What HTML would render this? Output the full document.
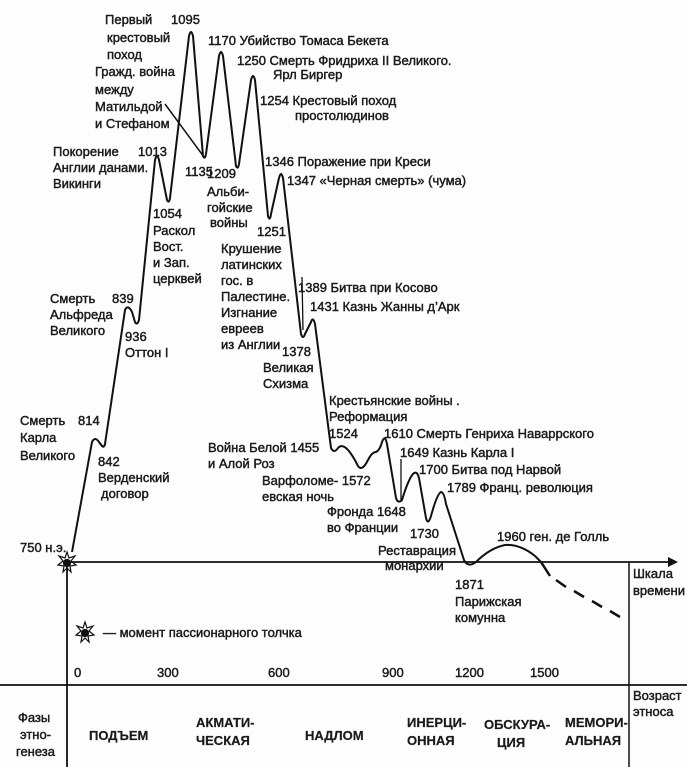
<!DOCTYPE html>
<html><head><meta charset="utf-8"><style>
html,body{margin:0;padding:0;background:#fdfdfd;}
svg{display:block}
text{font-family:"Liberation Sans","DejaVu Sans",sans-serif;font-size:13px;fill:#1a1a1a;stroke:#1a1a1a;stroke-width:0.45px}
.b{font-weight:bold;stroke-width:0.2px}
</style></head><body>
<svg width="687" height="767" viewBox="0 0 687 767" xmlns="http://www.w3.org/2000/svg">
<rect width="687" height="767" fill="#fdfdfd"/>
<g fill="none" stroke="#111" stroke-width="2" stroke-linejoin="round">
<path d="M72,552 L92,442 Q95,436 99,442 L102,446 Q104,448 105,444 L125,310 Q128,304 132,312 L135,322 Q137,326 139,320 L155,160 Q157,152 159,160 L167,200 Q169,204 170,198 L189,36 Q191,28 193,36 L203,156 Q205,160 206,154 L219,56 Q221,48 223,56 L236,166 Q238,170 239,164 L251,80 Q253,72 255,80 L268,216 Q270,222 271,214 L279,178 Q281,170 283,178 L301,334 Q303,340 305,334 L311,322 Q313,316 315,324 L331,448 Q334,454 338,448 Q345,440 358,466 Q362,472 368,460 Q372,452 376,452 Q380,450 382,442 Q385,434 387,444 L396,498 Q398,504 402,500 Q408,480 413,474 Q417,470 419,478 L426,518 Q428,526 431,516 Q437,494 441,492 Q444,492 446,504 L464,560 Q468,568 476,562 Q490,548 505,545 Q520,544 535,556 L541,562"/>
<path d="M541,562 L550,576 M556,580 L566,587 M574,591 L584,597 M592,601 L602,607 M610,611 L620,617" stroke-width="2.5"/>
<line x1="165" y1="104" x2="204" y2="157" stroke-width="1.5"/>
<line x1="302" y1="277" x2="303" y2="330" stroke-width="1.3"/>
<line x1="401" y1="459" x2="401" y2="500" stroke-width="1.3"/>
<line x1="67" y1="562" x2="668" y2="562" stroke-width="1.8"/>
<line x1="67" y1="562" x2="67" y2="767" stroke-width="1.8"/>
<line x1="629" y1="562" x2="629" y2="767" stroke-width="1.5"/>
<line x1="0" y1="685" x2="687" y2="685" stroke-width="1.8"/>
</g>
<polygon points="668,557 678,562 668,567" fill="#111"/>
<g fill="#111" stroke="#111" stroke-width="1.2">
<polygon points="67,552 69,558 75,556 71,561 76,565 70,566 71,572 67,568 63,572 64,566 58,565 63,561 59,556 65,558" fill="none"/>
<circle cx="67" cy="563" r="3.5"/>
<polygon points="85,622 87,628 93,626 89,631 94,635 88,636 89,642 85,638 81,642 82,636 76,635 81,631 77,626 83,628" fill="none"/>
<circle cx="85" cy="633" r="3.5"/>
</g>
<g>
<text x="105" y="24">Первый</text><text x="171" y="24">1095</text>
<text x="107" y="42">крестовый</text><text x="107" y="59">поход</text>
<text x="208" y="45">1170 Убийство Томаса Бекета</text>
<text x="237" y="65">1250 Смерть Фридриха II Великого.</text>
<text x="273" y="79">Ярл Биргер</text>
<text x="95" y="76">Гражд. война</text><text x="95" y="94">между</text>
<text x="95" y="111">Матильдой</text><text x="95" y="128">и Стефаном</text>
<text x="260" y="105">1254 Крестовый поход</text>
<text x="295" y="120">простолюдинов</text>
<text x="53" y="156">Покорение</text><text x="138" y="156">1013</text>
<text x="53" y="172">Англии данами.</text><text x="53" y="188">Викинги</text>
<text x="185" y="176">1135</text><text x="207" y="178">1209</text>
<text x="207" y="196">Альби-</text><text x="207" y="212">гойские</text><text x="210" y="227">войны</text>
<text x="265" y="166">1346 Поражение при Креси</text>
<text x="287" y="185">1347 «Черная смерть» (чума)</text>
<text x="153" y="218">1054</text><text x="153" y="235">Раскол</text>
<text x="153" y="251">Вост.</text><text x="153" y="267">и Зап.</text><text x="153" y="283">церквей</text>
<text x="257" y="236">1251</text><text x="221" y="253">Крушение</text>
<text x="221" y="269">латинских</text><text x="221" y="285">гос. в</text>
<text x="221" y="301">Палестине.</text><text x="221" y="317">Изгнание</text>
<text x="221" y="333">евреев</text><text x="221" y="349">из Англии</text>
<text x="298" y="292">1389 Битва при Косово</text>
<text x="310" y="311">1431 Казнь Жанны д’Арк</text>
<text x="50" y="303">Смерть</text><text x="112" y="303">839</text>
<text x="50" y="319">Альфреда</text><text x="50" y="335">Великого</text>
<text x="125" y="341">936</text><text x="125" y="357">Оттон I</text>
<text x="282" y="356">1378</text><text x="263" y="372">Великая</text><text x="263" y="388">Схизма</text>
<text x="329" y="405">Крестьянские войны .</text>
<text x="329" y="421">Реформация</text><text x="329" y="438">1524</text>
<text x="384" y="438">1610 Смерть Генриха Наваррского</text>
<text x="20" y="425">Смерть</text><text x="78" y="425">814</text>
<text x="20" y="442">Карла</text><text x="20" y="460">Великого</text>
<text x="208" y="452">Война Белой 1455</text><text x="208" y="468">и Алой Роз</text>
<text x="98" y="466">842</text><text x="98" y="482">Верденский</text><text x="101" y="498">договор</text>
<text x="400" y="457">1649 Казнь Карла I</text>
<text x="419" y="474">1700 Битва под Нарвой</text>
<text x="447" y="492">1789 Франц. революция</text>
<text x="262" y="485">Варфоломе- 1572</text><text x="262" y="501">евская ночь</text>
<text x="327" y="516">Фронда 1648</text><text x="327" y="532">во Франции</text>
<text x="410" y="538">1730</text>
<text x="378" y="555">Реставрация</text><text x="385" y="570">монархии</text>
<text x="497" y="541">1960 ген. де Голль</text>
<text x="20" y="552">750 н.э.</text>
<text x="455" y="589">1871</text><text x="455" y="606">Парижская</text><text x="455" y="622">комунна</text>
<text x="633" y="578">Шкала</text><text x="633" y="595">времени</text>
<text x="103" y="637">— момент пассионарного толчка</text>
<text x="74" y="677">0</text><text x="157" y="677">300</text><text x="268" y="677">600</text>
<text x="382" y="677">900</text><text x="455" y="677">1200</text><text x="530" y="677">1500</text>
<text x="633" y="700">Возраст</text><text x="633" y="716">этноса</text>
<text x="18" y="722">Фазы</text><text x="20" y="739">этно-</text><text x="16" y="756">генеза</text>
<text class="b" x="89" y="740">ПОДЪЕМ</text>
<text class="b" x="196" y="727">АКМАТИ-</text><text class="b" x="196" y="745">ЧЕСКАЯ</text>
<text class="b" x="305" y="740">НАДЛОМ</text>
<text class="b" x="407" y="727">ИНЕРЦИ-</text><text class="b" x="407" y="745">ОННАЯ</text>
<text class="b" x="484" y="729">ОБСКУРА-</text><text class="b" x="497" y="747">ЦИЯ</text>
<text class="b" x="565" y="727">МЕМОРИ-</text><text class="b" x="565" y="745">АЛЬНАЯ</text>
</g>
</svg>
</body></html>
